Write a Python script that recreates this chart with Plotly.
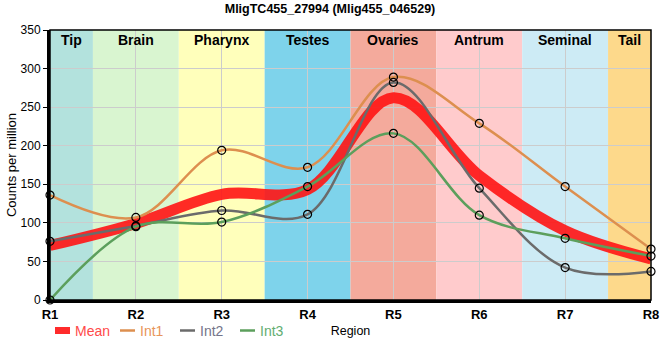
import plotly.graph_objects as go

regions = ["R1", "R2", "R3", "R4", "R5", "R6", "R7", "R8"]
int1 = [136, 107, 194, 172, 289, 229, 147, 66]
int2 = [76, 96, 116, 111, 282, 145, 42, 37]
int3 = [0, 95, 101, 147, 216, 110, 80, 57]
mean = [round((a + b + c) / 3, 1) for a, b, c in zip(int1, int2, int3)]

band_names = ["Tip", "Brain", "Pharynx", "Testes", "Ovaries", "Antrum", "Seminal", "Tail"]
band_edges = [1, 1.5, 2.5, 3.5, 4.5, 5.5, 6.5, 7.5, 8]
band_colors = ["#b3e2dd", "#d9f5d0", "#ffffbb", "#7ed3eb", "#f4aa9c", "#ffcbcc", "#cdebf5", "#fdd98b"]

x = list(range(1, len(regions) + 1))

W, H = 660, 360
ML, MR, MT, MB = 50, 9, 30, 60
PW, PH = W - ML - MR, H - MT - MB
FONT = "Liberation Sans, Arial, sans-serif"

def px(xp):
    return (xp - ML) / PW

def py(yp):
    return (MT + PH - yp) / PH

fig = go.Figure()

series = [
    ("Mean", mean, "rgba(255,20,20,0.9)", 11, False, "#ff4a4a"),
    ("Int1", int1, "#dd8f4f", 2.5, True, "#e8955a"),
    ("Int2", int2, "#6b6b6b", 2.5, True, "#74748a"),
    ("Int3", int3, "#5c9f5c", 2.5, True, "#62ad72"),
]

for name, vals, col, w, mk, tc in series:
    fig.add_trace(go.Scatter(
        x=x, y=vals, mode="lines",
        line=dict(color=col, width=w, shape="spline", smoothing=1.0),
        name=name, showlegend=False, hoverinfo="skip",
    ))
for name, vals, col, w, mk, tc in series:
    if mk:
        fig.add_trace(go.Scatter(
            x=x, y=vals, mode="markers",
            marker=dict(symbol="circle-open", size=8, color="black", line=dict(width=1.2)),
            showlegend=False, hoverinfo="skip", cliponaxis=False,
        ))

shapes = []
annotations = []
for i, nm in enumerate(band_names):
    x0, x1 = band_edges[i], band_edges[i + 1]
    shapes.append(dict(type="rect", xref="x", yref="paper", x0=x0, x1=x1, y0=0, y1=1,
                       fillcolor=band_colors[i], line=dict(width=0), layer="below"))
    annotations.append(dict(x=(x0 + x1) / 2, y=py(40), xref="x", yref="paper",
                            yanchor="middle", text=f"<b>{nm}</b>", showarrow=False,
                            font=dict(size=14, color="black", family=FONT)))
shapes.append(dict(type="rect", xref="paper", yref="paper", x0=0, x1=1, y0=0, y1=1,
                   line=dict(color="black", width=1.5), layer="above"))

# manual legend
legend_x = [55, 120, 180, 240]
for (name, vals, col, w, mk, tc), lx in zip(series, legend_x):
    shapes.append(dict(type="line", xref="paper", yref="paper",
                       x0=px(lx), x1=px(lx + 15), y0=py(330.5), y1=py(330.5),
                       line=dict(color=col, width=7 if name == "Mean" else 2.5)))
    annotations.append(dict(x=px(lx + 18), y=py(330.5), xref="paper", yref="paper",
                            xanchor="left", yanchor="middle", showarrow=False,
                            text=name, font=dict(size=14, color=tc, family=FONT)))

fig.update_layout(
    width=W, height=H,
    margin=dict(l=ML, r=MR, t=MT, b=MB),
    paper_bgcolor="white", plot_bgcolor="white",
    font=dict(family=FONT, size=12, color="black"),
    title=dict(text="<b>MligTC455_27994 (Mlig455_046529)</b>", x=0.5, xref="container",
               y=1 - 9 / H, yanchor="middle", font=dict(size=12.5)),
    shapes=shapes, annotations=annotations,
    showlegend=False,
    xaxis=dict(range=[1, 8], tickvals=x, ticktext=[f"<b>{r}</b>" for r in regions],
               showgrid=True, gridcolor="#cccccc", gridwidth=1,
               showline=True, linecolor="black", linewidth=3, ticks="",
               zeroline=False, tickfont=dict(size=13), automargin=False,
               title=dict(text="Region", font=dict(size=12.5), standoff=6)),
    yaxis=dict(range=[0, 350], dtick=50, showgrid=True, gridcolor="#cccccc", gridwidth=1,
               showline=True, linecolor="black", linewidth=3, ticks="outside",
               ticklen=4, tickcolor="black", tickwidth=1, zeroline=False,
               tickfont=dict(size=12), automargin=False,
               title=dict(text="Counts per million", font=dict(size=13), standoff=2)),
)

fig.write_html("out.html",
               config={"displayModeBar": False},
               post_script="document.body.style.margin='0';document.body.style.overflow='hidden';")
